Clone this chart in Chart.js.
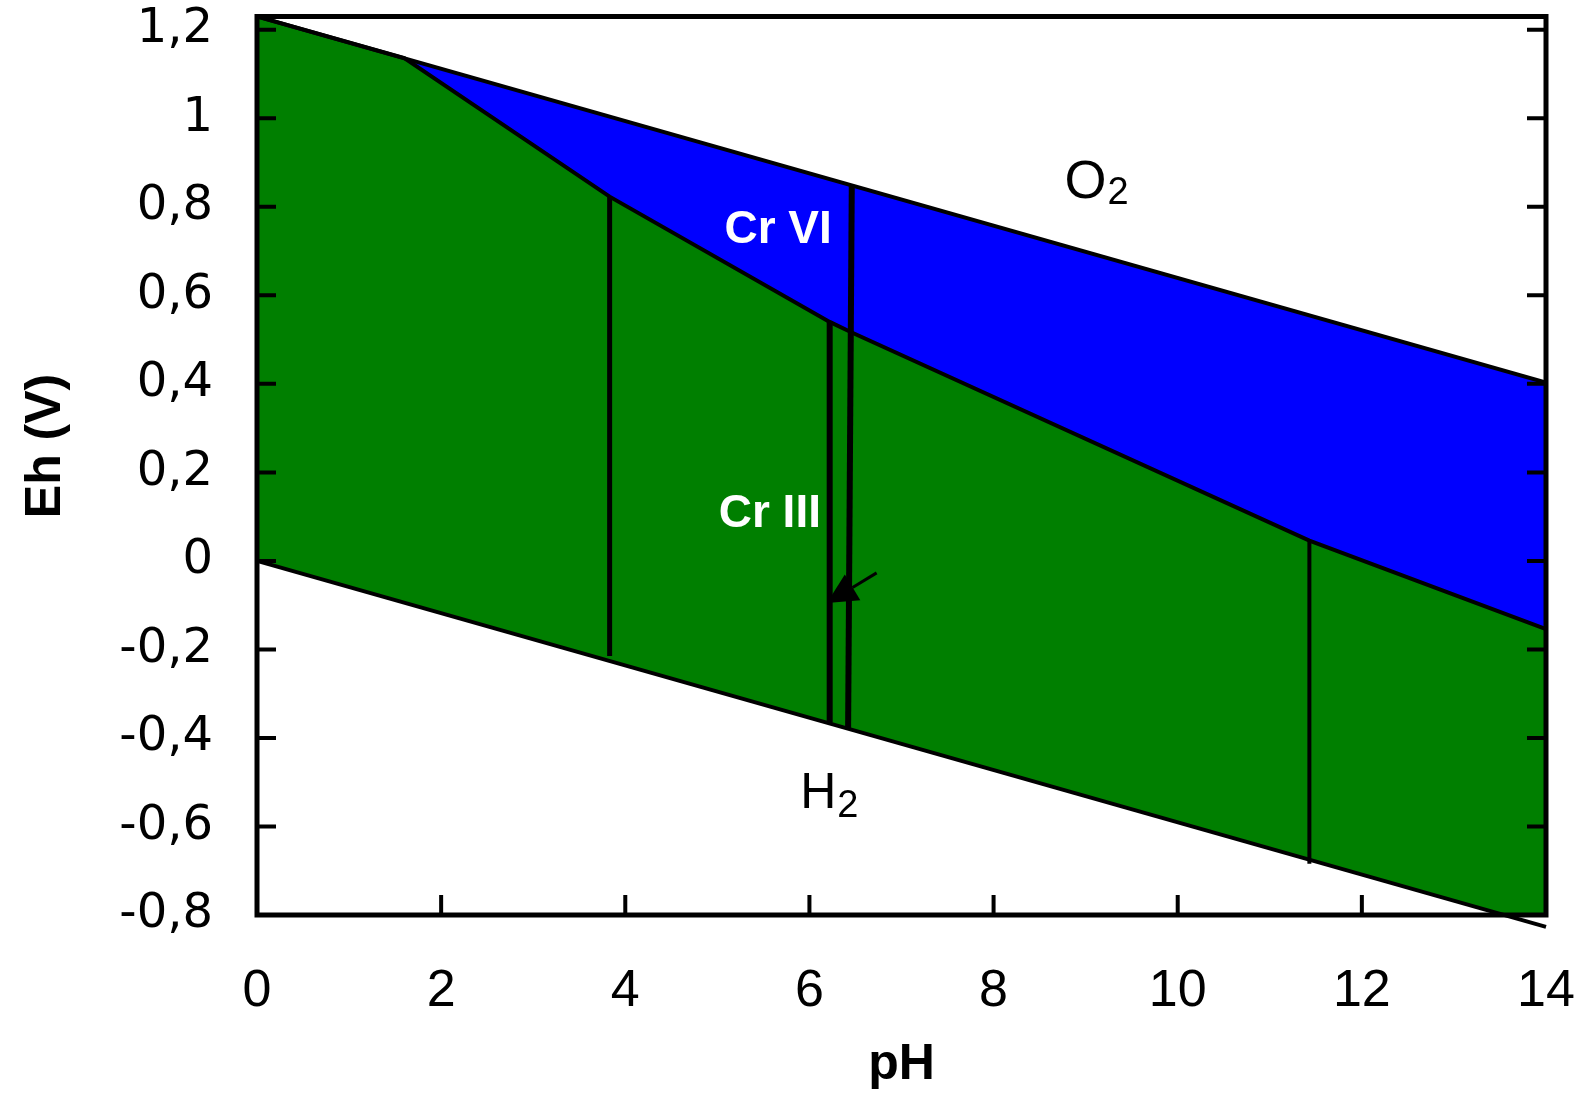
<!DOCTYPE html>
<html>
<head>
<meta charset="utf-8">
<script src="https://cdn.jsdelivr.net/npm/chart.js@4.4.0/dist/chart.umd.min.js"></script>
<style>
html, body { margin: 0; padding: 0; background: #fff; }
</style>
</head>
<body>
<canvas id="myChart" width="1589" height="1095"></canvas>
<script>
// axis ticks
let phTicks = [0, 2, 4, 6, 8, 10, 12, 14];
let ehTicks = [-0.8, -0.6, -0.4, -0.2, 0, 0.2, 0.4, 0.6, 0.8, 1, 1.2];
let ehTickLabels = ['-0,8', '-0,6', '-0,4', '-0,2', '0', '0,2', '0,4', '0,6', '0,8', '1', '1,2'];

// water stability lines
let o2Ph = [0, 14];
let o2Eh = [1.23, 0.403];
let h2Ph = [0, 14];
let h2Eh = [0, -0.827];

// Cr VI / Cr III boundary
let crPh = [0, 1.6, 3.83, 6.22, 6.46, 11.43, 14];
let crEh = [1.23, 1.136, 0.823, 0.540, 0.516, 0.046, -0.154];

// vertical species boundaries
let vPhTop = [3.83, 6.22, 6.46, 11.43];
let vPhBottom = [3.83, 6.22, 6.42, 11.43];
let vEhTop = [0.823, 0.540, 0.848, 0.046];
let vEhBottom = [-0.215, -0.365, -0.380, -0.684];

// arrow, tail then tip
let arrowPh = [6.73, 6.19];
let arrowEh = [-0.027, -0.095];

// labels
let regionText = ['Cr VI', 'Cr III'];
let regionPh = [5.66, 5.57];
let regionEh = [0.718, 0.077];
let gasText = ['O', 'H'];
let gasPh = [8.77, 5.9];
let gasEh = [0.821, -0.559];

function pts(xs, ys) {
    return xs.map((v, i) => ({ x: v, y: ys[i] }));
}

let datasets = [
    { label: 'O2', data: pts(o2Ph, o2Eh), borderColor: '#000', borderWidth: 4, backgroundColor: '#0000ff', fill: 1 },
    { label: 'CrVI/CrIII', data: pts(crPh, crEh), borderColor: '#000', borderWidth: 4, backgroundColor: '#007f00', fill: 2 },
    { label: 'H2', data: pts(h2Ph, h2Eh), borderColor: '#000', borderWidth: 4, fill: false, clip: false }
];
let vWidths = [5, 6, 6, 4];
vPhTop.forEach((p, i) => {
    datasets.push({
        label: 'v' + i,
        data: [{ x: p, y: vEhTop[i] }, { x: vPhBottom[i], y: vEhBottom[i] }],
        borderColor: '#000',
        borderWidth: vWidths[i],
        fill: false
    });
});

// no extra space around the plot for tick labels
function noPad(s) {
    s.paddingTop = 0;
    s.paddingBottom = 0;
    s.paddingLeft = 0;
    s.paddingRight = 0;
}

const decor = {
    id: 'decor',
    beforeDatasetsDraw(chart) {
        const ctx = chart.ctx, a = chart.chartArea, x = chart.scales.x, y = chart.scales.y;
        ctx.save();
        ctx.strokeStyle = '#000';
        ctx.lineWidth = 4;
        ctx.beginPath();
        ehTicks.forEach(v => {
            const py = y.getPixelForValue(v);
            ctx.moveTo(a.left, py); ctx.lineTo(a.left + 19, py);
            ctx.moveTo(a.right, py); ctx.lineTo(a.right - 19, py);
        });
        phTicks.forEach(v => {
            const px = x.getPixelForValue(v);
            ctx.moveTo(px, a.bottom); ctx.lineTo(px, a.bottom - 20);
        });
        ctx.stroke();
        ctx.lineWidth = 5;
        ctx.strokeRect(a.left, a.top, a.right - a.left, a.bottom - a.top);
        ctx.restore();
    },
    afterDatasetsDraw(chart) {
        const ctx = chart.ctx, x = chart.scales.x, y = chart.scales.y;
        ctx.save();

        // arrow
        const x0 = x.getPixelForValue(arrowPh[0]), y0 = y.getPixelForValue(arrowEh[0]);
        const x1 = x.getPixelForValue(arrowPh[1]), y1 = y.getPixelForValue(arrowEh[1]);
        const ang = Math.atan2(y1 - y0, x1 - x0);
        const bx = x1 - 30 * Math.cos(ang), by = y1 - 30 * Math.sin(ang);
        ctx.strokeStyle = '#000';
        ctx.fillStyle = '#000';
        ctx.lineWidth = 3;
        ctx.beginPath();
        ctx.moveTo(x0, y0); ctx.lineTo(bx, by);
        ctx.stroke();
        ctx.beginPath();
        ctx.moveTo(x1, y1);
        ctx.lineTo(bx + 15 * Math.sin(ang), by - 15 * Math.cos(ang));
        ctx.lineTo(bx - 15 * Math.sin(ang), by + 15 * Math.cos(ang));
        ctx.closePath();
        ctx.fill();

        // region labels
        ctx.fillStyle = '#fff';
        ctx.textAlign = 'center';
        ctx.textBaseline = 'alphabetic';
        ctx.font = 'bold 46px "Liberation Sans", Arial, sans-serif';
        regionText.forEach((t, i) => {
            ctx.fillText(t, x.getPixelForValue(regionPh[i]), y.getPixelForValue(regionEh[i]));
        });

        // O2 and H2
        ctx.fillStyle = '#000';
        ctx.textAlign = 'left';
        let sizes = [54, 50], drops = [6, 9];
        gasText.forEach((t, i) => {
            const px = x.getPixelForValue(gasPh[i]), py = y.getPixelForValue(gasEh[i]);
            ctx.font = sizes[i] + 'px "Liberation Sans", Arial, sans-serif';
            ctx.fillText(t, px, py);
            const w = ctx.measureText(t).width;
            ctx.font = '38px "Liberation Sans", Arial, sans-serif';
            ctx.fillText('2', px + w + 1, py + drops[i]);
        });

        // y axis title
        ctx.translate(46.5, 446);
        ctx.rotate(-Math.PI / 2);
        ctx.textAlign = 'center';
        ctx.textBaseline = 'middle';
        ctx.font = 'bold 50px "Liberation Sans", Arial, sans-serif';
        ctx.fillText('Eh (V)', 0, 0);
        ctx.restore();
    }
};

let ctx = document.getElementById('myChart').getContext('2d');
let myChart = new Chart(ctx, {
    type: 'scatter',
    data: { datasets: datasets },
    options: {
        responsive: false,
        animation: false,
        showLine: true,
        layout: { padding: { top: 16.5, right: 43, left: 0, bottom: 0 }, autoPadding: false },
        elements: { point: { radius: 0, hoverRadius: 0 }, line: { tension: 0 } },
        plugins: {
            legend: { display: false },
            tooltip: { enabled: false },
            filler: { drawTime: 'beforeDatasetsDraw' }
        },
        scales: {
            x: {
                type: 'linear',
                min: 0,
                max: 14,
                afterBuildTicks: s => { s.ticks = phTicks.map(v => ({ value: v })); },
                afterFit: s => { s.height = 180; noPad(s); },
                grid: { display: false, drawTicks: false },
                border: { display: false },
                ticks: {
                    padding: 45,
                    color: '#000',
                    maxRotation: 0,
                    autoSkip: false,
                    font: { family: '"Liberation Sans", Arial, sans-serif', size: 52 }
                },
                title: {
                    display: true,
                    text: 'pH',
                    color: '#000',
                    padding: { top: 0, bottom: 0 },
                    font: { family: '"Liberation Sans", Arial, sans-serif', size: 50, weight: 'bold' }
                }
            },
            y: {
                type: 'linear',
                min: -0.8,
                max: 1.23,
                afterBuildTicks: s => { s.ticks = ehTicks.map(v => ({ value: v })); },
                afterFit: s => { s.width = 257; noPad(s); },
                grid: { display: false, drawTicks: false },
                border: { display: false },
                ticks: {
                    padding: 44,
                    color: '#000',
                    autoSkip: false,
                    callback: (v, i) => ehTickLabels[i],
                    font: { family: '"DejaVu Sans", sans-serif', size: 48 }
                }
            }
        }
    },
    plugins: [decor]
});
</script>
</body>
</html>
